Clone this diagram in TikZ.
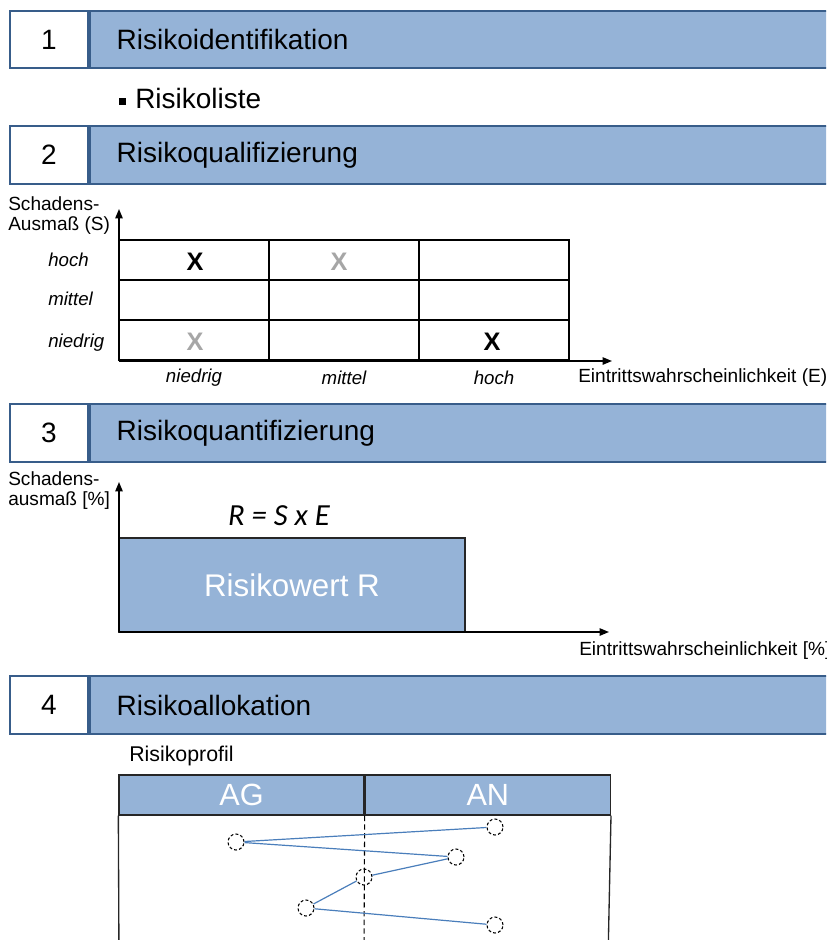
\documentclass[tikz,border=0pt]{standalone}
\usepackage{fontspec}
\setmainfont{Liberation Sans}
\newfontfamily\carlito{Carlito}
\usetikzlibrary{positioning, arrows.meta}

\definecolor{barblue}{HTML}{95B3D7}
\definecolor{barline}{HTML}{385D8A}
\definecolor{lineblue}{HTML}{4A7EBB}
\definecolor{xgray}{HTML}{A6A6A6}

\begin{document}
\begin{tikzpicture}[x=0.75pt, y=-0.75pt, >={Triangle[length=7pt, width=5.5pt]},
    numbox/.style={draw=barline, line width=1.5pt, fill=white, minimum width=58.5pt,
        minimum height=43pt, inner sep=0pt, font=\fontsize{21}{25}\selectfont},
    titlebar/.style={draw=barline, line width=1.5pt, fill=barblue, minimum height=43pt,
        text width=524pt, inner xsep=20pt, align=left, font=\fontsize{21}{25}\selectfont},
    lbl/.style={font=\fontsize{14.3}{16.5}\selectfont, inner sep=0pt, align=left},
    ilbl/.style={font=\itshape\fontsize{14}{16.5}\selectfont, inner sep=0pt},
    xmark/.style={font=\bfseries\fontsize{19}{22}\selectfont, inner sep=0pt},
    axis/.style={->, line width=1.1pt},
    gridline/.style={line width=0.8pt},
    tabhead/.style={draw=black!85, line width=1pt, fill=barblue, minimum width=183.75pt,
        minimum height=30pt, inner sep=0pt, text=white, font=\fontsize{23}{27}\selectfont},
    pt/.style={circle, draw, dashed, dash pattern=on 2.2pt off 1.6pt, line width=0.8pt,
        minimum size=12pt, inner sep=0pt},
    profil/.style={draw=lineblue, line width=0.9pt}]

    \useasboundingbox (0,0) rectangle (826,940);
    \clip (0,0) rectangle (826,940);

    % Section headers: number box + title bar
    \node[numbox] (n1) at (49,39.5) {1};
    \node[titlebar, right=0pt of n1] (t1) {Risikoidentifikation};
    \node[numbox] (n2) at (49,155) {2};
    \node[titlebar, right=0pt of n2] (t2) {Risikoqualifizierung};
    \node[numbox] (n3) at (49,433) {3};
    \node[titlebar, right=0pt of n3] (t3) {Risikoquantifizierung};
    \node[numbox] (n4) at (49,705) {4};
    \node[titlebar, right=0pt of n4] (t4) {Risikoallokation};

    % 1: list
    \node[anchor=west, inner sep=0pt, font=\fontsize{21}{25}\selectfont] (liste) at (119,98)
        {\rule[2.5pt]{5pt}{5pt}\hspace{7pt}Risikoliste};

    % 2: matrix S over E
    \node[lbl, anchor=north west] (sachse) at (8,196) {Schadens-\\[-1pt]Ausmaß (S)};
    \coordinate (o2) at (119,361);
    \coordinate (y2) at (119,209);
    \coordinate (x2) at (612,361);
    \draw[gridline] (119,240) rectangle (569,360);
    \foreach \x in {269,419} \draw[gridline] (\x,240) -- (\x,360);
    \foreach \y in {280,320} \draw[gridline] (119,\y) -- (569,\y);
    \draw[axis] (o2) -- (y2);
    \draw[axis] (o2) -- (x2);

    \node[ilbl, anchor=west] (s3) at (48,260) {hoch};
    \node[ilbl, anchor=west] (s2) at (48,299) {mittel};
    \node[ilbl, anchor=west] (s1) at (48,343) {niedrig};
    \node[ilbl] (e1) at (194,378) {niedrig};
    \node[ilbl] (e2) at (344,378) {mittel};
    \node[ilbl] (e3) at (494,378) {hoch};
    \node[lbl, anchor=west] (eachse) at (578,378) {Eintrittswahrscheinlichkeit (E)};

    \node[xmark] (x13) at (195,262) {X};
    \node[xmark, text=xgray] (x23) at (339,262) {X};
    \node[xmark, text=xgray] (x11) at (195,342) {X};
    \node[xmark] (x31) at (492,342) {X};

    % 3: risk value R = S x E
    \node[lbl, anchor=north west] (sachse3) at (8,471) {Schadens-\\[-1pt]ausmaß [\%]};
    \coordinate (o3) at (119,632);
    \coordinate (y3) at (119,482);
    \coordinate (x3) at (609,632);
    \node[draw=black!85, line width=1pt, fill=barblue, minimum width=259.5pt, minimum height=70.5pt,
        inner sep=0pt, text=white, font=\fontsize{23.5}{27}\selectfont] (rw) at (292,585) {Risikowert R};
    \draw[axis] (o3) -- (y3);
    \draw[axis] (o3) -- (x3);
    \node[font=\carlito\itshape\fontsize{23}{27}\selectfont, inner sep=0pt] (formel) at (279,516) {R = S x E};
    \node[lbl, anchor=west] (eachse3) at (579,651) {Eintrittswahrscheinlichkeit [\%]};

    % 4: risk profile AG / AN
    \node[anchor=west, inner sep=0pt, font=\fontsize{16}{19}\selectfont] (profil) at (129,756) {Risikoprofil};
    \node[tabhead] (ag) at (241.5,795) {AG};
    \node[tabhead, right=0pt of ag] (an) {AN};
    \draw[line width=1pt, draw=black!85] (ag.south west) -- (119,960) (an.south east) -- (608,960);
    \coordinate (mitte) at (364,950);
    \draw[dashed, dash pattern=on 4pt off 2.5pt, line width=0.8pt] (ag.south east) -- (mitte);

    \node[pt] (p1) at (495,827) {};
    \node[pt] (p2) at (236,842) {};
    \node[pt] (p3) at (456,857) {};
    \node[pt] (p4) at (364,877) {};
    \node[pt] (p5) at (306,908) {};
    \node[pt] (p6) at (495,925) {};
    \draw[profil] (p1) -- (p2) -- (p3) -- (p4) -- (p5) -- (p6);

\end{tikzpicture}
\end{document}
